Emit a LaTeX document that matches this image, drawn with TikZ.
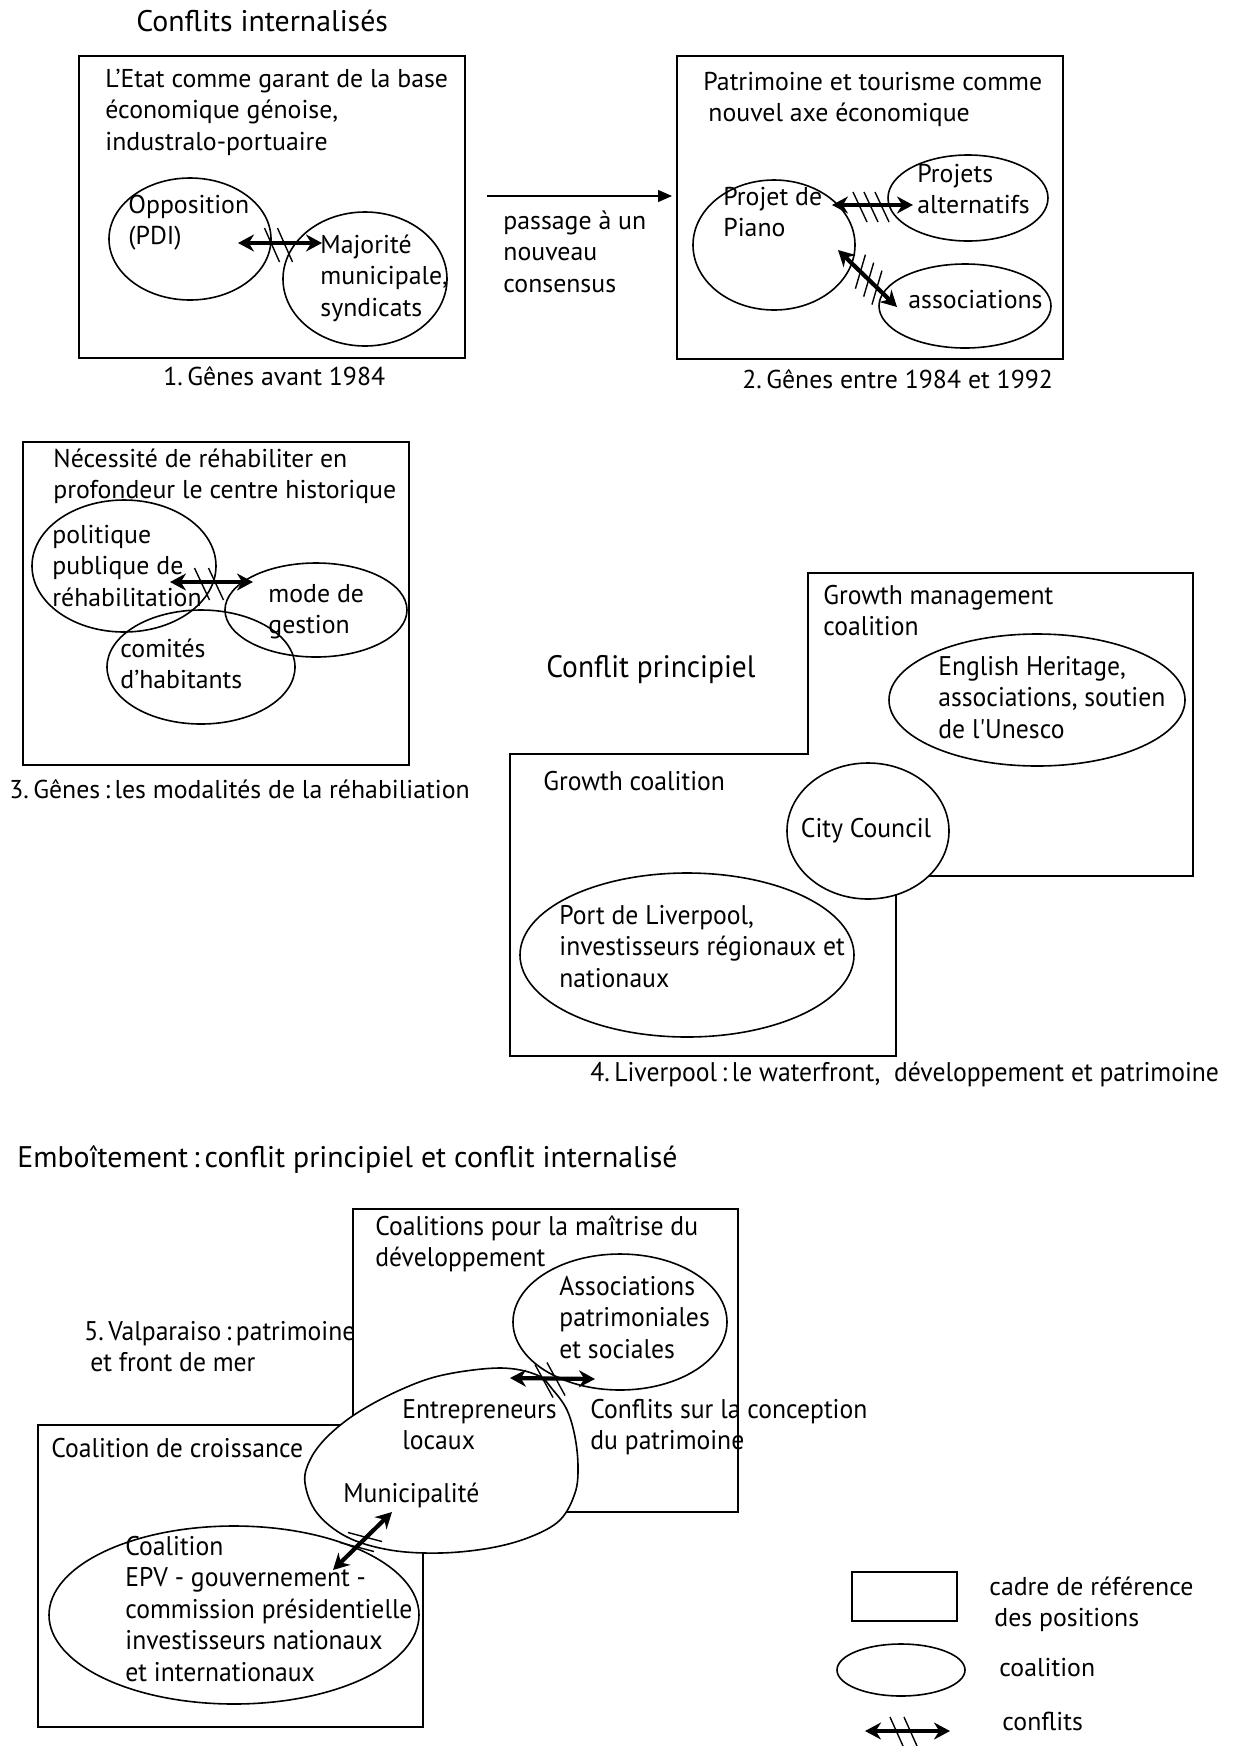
\documentclass[tikz,border=0pt]{standalone}
\usepackage{fontspec}
\setmainfont{PT Sans}
\newfontfamily\condf[FakeStretch=0.95]{PT Sans}
\usetikzlibrary{shapes.geometric,arrows.meta,calc}
\newcommand\firstl{\rule{0pt}{16pt}}
\begin{document}
\begin{tikzpicture}[x=0.5pt,y=-0.5pt,
  box/.style={draw,line width=1pt},
  ell/.style={draw,ellipse,line width=0.8pt,inner sep=0pt},
  txt/.style={inner sep=0pt,anchor=north west,yshift=6pt,align=left,font=\fontsize{12.9}{15.75}\selectfont},
  ctxt/.style={inner sep=0pt,anchor=north west,yshift=6pt,align=left,font=\condf\fontsize{13.5}{15.75}\selectfont},
  ttl/.style={inner sep=0pt,anchor=north west,yshift=6pt,align=left,font=\fontsize{14.9}{16}\selectfont},
  cttl/.style={inner sep=0pt,anchor=north west,yshift=6pt,align=left,font=\condf\fontsize{15.5}{16}\selectfont},
  conflict/.style={line width=2.1pt,{Stealth[length=8pt,width=8.5pt]}-{Stealth[length=8pt,width=8.5pt]}},
  hatch/.style={line width=0.7pt},
]
\useasboundingbox[fill=white] (0,0) rectangle (1236,1746);

% ---------- title
\node[ttl] (title1) at (136,11) {\firstl Conflits internalisés};

% ---------- 1. Genes avant 1984
\draw[box] (79,56) rectangle (465,358);
\node[txt] (t1) at (105,67) {\firstl L'Etat comme garant de la base\\économique génoise,\\industralo-portuaire};
\node[ell,minimum width=81pt,minimum height=61pt] (opp) at (190,239) {};
\node[ell,minimum width=82pt,minimum height=67pt] (maj) at (365,279) {};
\node[txt] (topp) at (128,193) {\firstl Opposition\\(PDI)};
\node[txt] (tmaj) at (320,233) {\firstl Majorité\\municipale,\\syndicats};
\coordinate (c1a) at (238,243);
\coordinate (c1b) at (322,243);
\draw[conflict] (c1a) -- (c1b);
\draw[hatch] (272,245) ++(-7.5,-17) -- ++(15,34);
\draw[hatch] (285,245) ++(-7.5,-17) -- ++(15,34);
\node[txt] (cap1) at (163,365) {\firstl 1.\,Gênes avant 1984};

% ---------- transition
\coordinate (m1) at (487,196);
\coordinate (m2) at (672,196);
\draw[line width=0.6pt,-{Triangle[length=7pt,width=6pt]}] (m1) -- (m2);
\node[txt] (pass) at (503,209) {\firstl passage à un\\nouveau\\consensus};

% ---------- 2. Genes 1984-1992
\draw[box] (677,56) rectangle (1063,359);
\node[txt] (t2) at (703,70) {\firstl Patrimoine et tourisme comme\\\hspace{2.5pt}nouvel axe économique};
\node[ell,minimum width=81pt,minimum height=65pt] (piano) at (774,245) {};
\node[ell,minimum width=80pt,minimum height=43pt] (alt) at (968,198) {};
\node[ell,minimum width=86pt,minimum height=42pt] (asso) at (965,306) {};
\node[txt] (tpiano) at (723,185) {\firstl Projet de\\Piano};
\node[txt] (talt) at (917,162) {\firstl Projets\\alternatifs};
\node[txt] (tasso) at (908,288) {\firstl associations};
\coordinate (c2a) at (832,205);
\coordinate (c2b) at (913,205);
\draw[conflict] (c2a) -- (c2b);
\foreach \hx in {860,871,882} \draw[hatch] (\hx,207) ++(-7,-15) -- ++(14,30);
\coordinate (c3a) at (838,250);
\coordinate (c3b) at (897,307);
\draw[conflict] (c3a) -- (c3b);
\foreach \t in {0.38,0.52,0.66} \draw[hatch] ($(c3a)!\t!(c3b)$) ++(-5,17) -- ++(10,-34);
\node[txt] (cap2) at (742,368) {\firstl 2.\,Gênes entre 1984 et 1992};

% ---------- 3. Genes modalites
\draw[box] (23,442) rectangle (409,765);
\node[txt] (t3) at (53,447) {\firstl Nécessité de réhabiliter en\\profondeur le centre historique};
\node[ell,minimum width=92pt,minimum height=66pt] (pol) at (124,566) {};
\node[ell,minimum width=91pt,minimum height=47pt] (mode) at (316,610) {};
\node[ell,minimum width=94pt,minimum height=57pt] (com) at (201,667) {};
\node[txt] (tpol) at (52,523) {\firstl politique\\publique de\\réhabilitation};
\node[txt] (tmode) at (268,582) {\firstl mode de\\gestion};
\node[txt] (tcom) at (120,637) {\firstl comités\\d'habitants};
\coordinate (c4a) at (170,582);
\coordinate (c4b) at (253,582);
\draw[conflict] (c4a) -- (c4b);
\draw[hatch] (202,584) ++(-7.5,-16) -- ++(15,32);
\draw[hatch] (216,584) ++(-7.5,-16) -- ++(15,32);
\node[txt] (cap3) at (9,778) {\firstl 3.\,Gênes\,:\,les modalités de la réhabiliation};

% ---------- 4. Liverpool
\node[cttl] (title2) at (546,657) {\firstl Conflit principiel};
\draw[box] (510,754) -- (808,754) -- (808,573) -- (1193,573) -- (1193,876)
  -- (896,876) -- (896,1056) -- (510,1056) -- cycle;
\node[ctxt] (tgm) at (823,584) {\firstl Growth management\\coalition};
\node[ell,minimum width=148pt,minimum height=66pt] (eh) at (1037,700) {};
\node[ctxt] (teh) at (938,655) {\firstl English Heritage,\\associations, soutien\\de l'Unesco};
\node[ctxt] (tgc) at (543,770) {\firstl Growth coalition};
\node[ell,fill=white,minimum width=81pt,minimum height=68pt] (cc) at (868,831) {};
\node[inner sep=0pt,font=\condf\fontsize{13.5}{15.75}\selectfont] (tcity) at (866,831) {City Council};
\node[ell,minimum width=167pt,minimum height=82pt] (port) at (687,955) {};
\node[ctxt] (tport) at (559,904) {\firstl Port de Liverpool,\\investisseurs régionaux et\\nationaux};
\node[ctxt] (cap4) at (590,1061) {\firstl 4.\,Liverpool\,:\,le waterfront,\ \ développement et patrimoine};

% ---------- 5. Valparaiso
\node[ttl] (title3) at (17,1147) {\firstl Emboîtement\,:\,conflit principiel et conflit internalisé};
\draw[box] (353,1209) rectangle (738,1512);
\draw[box] (38,1425) rectangle (423,1727);
\draw[line width=0.8pt,fill=white] plot[smooth cycle,tension=0.6] coordinates {
  (500,1368) (537,1375) (553,1390) (567,1410) (575,1437) (578,1467) (575,1493)
  (560,1520) (530,1537) (490,1548) (440,1553) (390,1550) (347,1537) (317,1513)
  (305,1483) (310,1460) (327,1437) (357,1413) (400,1390) (443,1375)};
\node[ctxt] (tcpm) at (375,1215) {\firstl Coalitions pour la maîtrise du\\développement};
\node[ell,minimum width=107pt,minimum height=68pt] (apat) at (620,1322) {};
\node[ctxt] (tapat) at (559,1275) {\firstl Associations\\patrimoniales\\et sociales};
\node[ctxt] (tval) at (84,1320) {\firstl 5.\,Valparaiso\,:\,patrimoine\\\hspace{3pt}et front de mer};
\node[ctxt] (tcc) at (51,1437) {\firstl Coalition de croissance};
\node[ctxt] (tent) at (402,1398) {\firstl Entrepreneurs\\locaux};
\node[ctxt] (tmun) at (343,1482) {\firstl Municipalité};
\node[ctxt] (tconf) at (590,1398) {\firstl Conflits sur la conception\\du patrimoine};
\node[ell,minimum width=185pt,minimum height=89pt] (coal) at (234,1615) {};
\node[ctxt] (tcoal) at (125,1535) {\firstl Coalition\\EPV - gouvernement -\\commission présidentielle\\investisseurs nationaux\\et internationaux};
\coordinate (c5a) at (510,1378);
\coordinate (c5b) at (595,1379);
\draw[conflict] (c5a) -- (c5b);
\draw[hatch] (544,1381) ++(-9,-16.5) -- ++(18,33);
\draw[hatch] (556,1379) ++(-9,-16.5) -- ++(18,33);
\coordinate (c6a) at (392,1512);
\coordinate (c6b) at (333,1570);
\draw[conflict] (c6b) -- (c6a);
\draw[hatch] (365,1537) ++(-17,-4.5) -- ++(34,9);
\draw[hatch] (357,1547) ++(-17,-4.5) -- ++(34,9);

% ---------- legend
\draw[box] (852,1572) rectangle (957,1621);
\node[txt] (l1) at (989,1575) {\firstl cadre de référence\\\hspace{2.5pt}des positions};
\node[ell,minimum width=64pt,minimum height=26pt] (lell) at (901,1670) {};
\node[txt] (l2) at (999,1656) {\firstl coalition};
\coordinate (l3a) at (865,1731);
\coordinate (l3b) at (950,1731);
\draw[conflict] (l3a) -- (l3b);
\draw[hatch] (896.5,1731.5) ++(-6.5,-14.5) -- ++(13,29);
\draw[hatch] (910.5,1731.5) ++(-6.5,-14.5) -- ++(13,29);
\node[txt] (l3) at (1002,1710) {\firstl conflits};
\end{tikzpicture}
\end{document}
